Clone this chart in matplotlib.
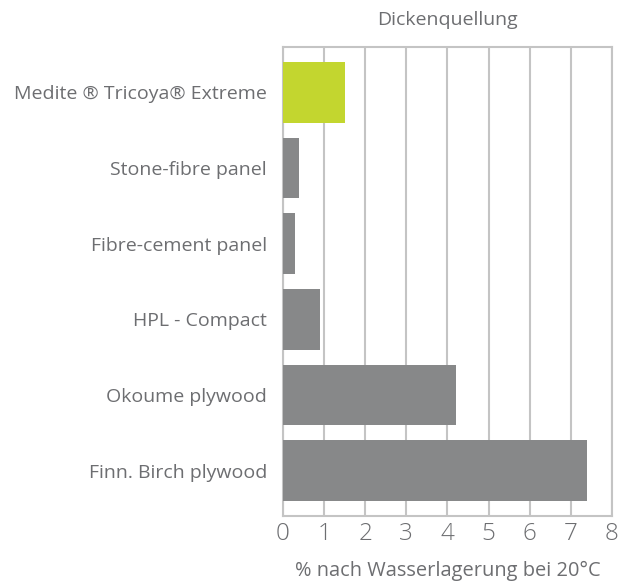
import numpy as np
import matplotlib.pyplot as plt

plt.rcParams['font.family'] = ['Open Sans', 'DejaVu Sans']

# Daten
kategorien = ['Medite ® Tricoya® Extreme', 'Stone-fibre panel', 'Fibre-cement panel',
              'HPL - Compact', 'Okoume plywood', 'Finn. Birch plywood']
werte = [1.5, 0.4, 0.3, 0.9, 4.2, 7.4]
farben = ['#c3d62f', '#878889', '#878889', '#878889', '#878889', '#878889']
x_ticks = [0, 1, 2, 3, 4, 5, 6, 7, 8]

textfarbe = '#6d6e71'
gridfarbe = '#c4c4c4'

fig = plt.figure(figsize=(6.18, 5.84), dpi=100)
ax = fig.add_axes([0.458, 0.1164, 0.532, 0.803])

y = np.arange(len(kategorien))
ax.barh(y, werte, height=0.8, color=farben, zorder=3)

ax.set_xlim(0, 8)
ax.set_ylim(len(kategorien) - 0.4, -0.6)
ax.set_xticks(x_ticks)
ax.set_xticklabels([str(t) for t in x_ticks], fontweight='light')
ax.set_yticks(y)
ax.set_yticklabels(kategorien)
ax.xaxis.grid(True, color=gridfarbe, linewidth=1.5, zorder=0)
ax.tick_params(axis='both', length=0, colors=textfarbe)
ax.tick_params(axis='x', labelsize=17.5, pad=4)
ax.tick_params(axis='y', labelsize=14, pad=11.5)
for s in ax.spines.values():
    s.set_color(gridfarbe)
    s.set_linewidth(1.5)

ax.set_title('Dickenquellung', color=textfarbe, fontsize=14, pad=16)
ax.set_xlabel('% nach Wasserlagerung bei 20°C', color=textfarbe, fontsize=14.4, labelpad=11)

fig.savefig('out.png', dpi=100)
